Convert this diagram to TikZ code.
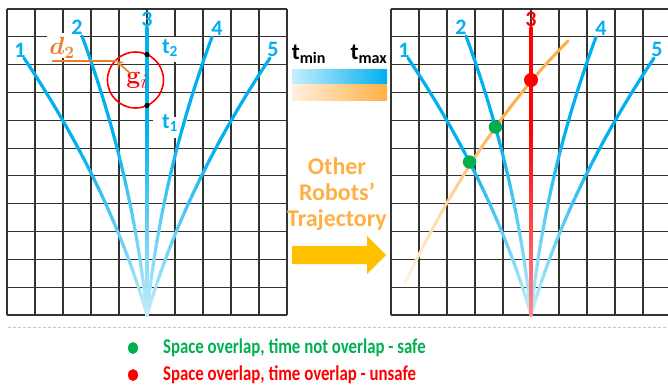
\documentclass[tikz,border=0pt]{standalone}
\usepackage{amsmath,bm}
\usepackage[no-math]{fontspec}
\setmainfont{Carlito}
\usetikzlibrary{arrows.meta}
\definecolor{tblue}{HTML}{00B0F0}
\definecolor{torange}{HTML}{ED7D31}
\definecolor{lorange}{HTML}{FFAF45}
\definecolor{tgold}{HTML}{FFC000}
\definecolor{tgreen}{HTML}{00B050}
\definecolor{tred}{HTML}{FF0000}
\newcommand{\gradcurve}[9]{%
\foreach \k in {1,...,30}{%
\pgfmathsetmacro\ta{(\k-1)/30}%
\pgfmathsetmacro\tb{\k/30}%
\pgfmathsetmacro\xa{#1+2*(1-\ta)*\ta*(#3)+\ta*\ta*(#5)}%
\pgfmathsetmacro\ya{#2+2*(1-\ta)*\ta*(#4)+\ta*\ta*(#6)}%
\pgfmathsetmacro\xb{#1+2*(1-\tb)*\tb*(#3)+\tb*\tb*(#5)}%
\pgfmathsetmacro\yb{#2+2*(1-\tb)*\tb*(#4)+\tb*\tb*(#6)}%
\pgfmathtruncatemacro\pc{#9+(100-#9)*min(1,\tb*1.5)}%
\draw[draw=#7!\pc!white, line width=#8, line cap=round] (\xa,\ya) -- (\xb,\yb);
}}
\begin{document}
\begin{tikzpicture}[x=1pt,y=-1pt,
  gridline/.style={black!80, line width=1.1pt},
  numlabel/.style={text=tblue, font=\bfseries\fontsize{22}{22}\selectfont, inner sep=0pt},
  tlabel/.style={text=tblue, font=\bfseries\fontsize{22}{22}\selectfont, inner sep=0pt},
  legendtext/.style={font=\bfseries\fontsize{21}{21}\selectfont, anchor=west, inner sep=0pt}]
\useasboundingbox (0,0) rectangle (668,386);

% grids
\foreach \j in {0,...,11}{%
  \pgfmathsetmacro\gy{9+27.818*\j}
  \draw[gridline] (7,\gy) -- (287,\gy);
  \draw[gridline] (391,\gy) -- (668,\gy);}
\foreach \i in {0,...,10}{\draw[gridline] ({7+28*\i},9) -- ({7+28*\i},315);}
\foreach \i in {0,...,9}{\draw[gridline] ({391+28*\i},9) -- ({391+28*\i},315);}

% white label boxes on left grid
\fill[white] (47,33) rectangle (80,58);
\fill[white] (154,36.5) rectangle (188,62);
\fill[white] (153,117) rectangle (187,138);

\coordinate (OL) at (147,315);
\coordinate (OR) at (531,315);

% left trajectories
\gradcurve{147}{315}{-37}{-128}{-123}{-257}{tblue}{3.2pt}{22}
\gradcurve{147}{315}{-14}{-140}{-65}{-279}{tblue}{3.2pt}{22}
\gradcurve{147}{315}{14}{-140}{65}{-278}{tblue}{3.2pt}{22}
\gradcurve{147}{315}{37}{-128}{123}{-257}{tblue}{3.2pt}{22}
\gradcurve{147}{315}{0}{-143.5}{0}{-287}{tblue}{4pt}{22}

% right trajectories
\gradcurve{531}{315}{-37}{-128}{-123}{-257}{tblue}{3.2pt}{22}
\gradcurve{531}{315}{-14}{-140}{-65}{-279}{tblue}{3.2pt}{22}
\gradcurve{531}{315}{14}{-140}{65}{-278}{tblue}{3.2pt}{22}
\gradcurve{531}{315}{37}{-128}{123}{-257}{tblue}{3.2pt}{22}
% other robot trajectory
\gradcurve{405}{283}{72}{-151}{163}{-242}{lorange}{3pt}{15}
% red trajectory 3
\gradcurve{531}{315}{0}{-143.5}{0}{-287}{tred}{4pt}{45}

% labels
\foreach \n/\dx/\dy in {1/-127/-265, 2/-70/-288, 4/70/-287, 5/126/-266}{%
  \node[numlabel] (L\n) at ({147+\dx},{315+\dy}) {\n};
  \node[numlabel] (R\n) at ({531+\dx},{315+\dy}) {\n};}
\node[numlabel] (L3) at (147,19) {3};
\node[numlabel, text=tred] (R3) at (531,19) {3};

% goal circle
\node[circle, draw=tred, line width=1.6pt, minimum size=56pt, inner sep=0pt] (gc) at (135.5,80) {};
\node[text=tred, font=\fontsize{28}{28}\selectfont, inner sep=0pt] (gi) at (137,80) {$\mathbf{g}_i$};
\fill[black] (147,54.5) circle[radius=2.6];
\fill[black] (147,105.5) circle[radius=2.6];
\coordinate (d2a) at (52,61);
\coordinate (d2b) at (117,61);
\draw[torange, line width=1.6pt] (d2a) -- (d2b);
\coordinate (ga) at (131,74);
\coordinate (gb) at (117,61.5);
\draw[torange, line width=1.6pt, -{Straight Barb[length=4pt,width=7pt]}] (ga) -- (gb);
\node[text=torange, font=\fontsize{23}{23}\selectfont, inner sep=0pt] (d2) at (62,48) {$\bm{d_2}$};
\node[tlabel] (t2) at (170,48) {t\textsubscript{2}};
\node[tlabel] (t1) at (170,123) {t\textsubscript{1}};

% time scale bars
\node[font=\bfseries\fontsize{23}{23}\selectfont, inner sep=0pt] (tmin) at (309,54) {t\textsubscript{min}};
\node[font=\bfseries\fontsize{23}{23}\selectfont, inner sep=0pt] (tmax) at (369,54) {t\textsubscript{max}};
\shade[left color=tblue!22!white, right color=tblue] (292,69) rectangle (387,84.5);
\shade[left color=lorange!18!white, right color=lorange] (292,84.5) rectangle (387,100.5);

% other robots text and arrow
\node[text=lorange, font=\bfseries\fontsize{24}{26}\selectfont, align=center, inner sep=0pt] (other) at (337,194) {Other\\Robots’\\Trajectory};
\fill[tgold] (292,246) -- (367,246) -- (367,236) -- (386,255) -- (367,274) -- (367,264) -- (292,264) -- cycle;

% intersection dots
\fill[tgreen] (469.5,162) circle[radius=6.7];
\fill[tgreen] (495.4,127) circle[radius=6.7];
\fill[tred] (531,80) circle[radius=7];

% separator
\coordinate (sepa) at (8,327);
\coordinate (sepb) at (668,327);
\draw[gray!45, line width=0.9pt, dash pattern=on 3pt off 2pt] (sepa) -- (sepb);

% legend
\fill[tgreen] (133,348) ellipse[x radius=5, y radius=6];
\fill[tred] (133,375) ellipse[x radius=5, y radius=6];
\node[legendtext, text=tgreen] (safe) at (163,348) {\scalebox{0.8}[1]{Space overlap, time not overlap - safe}};
\node[legendtext, text=tred] (unsafe) at (163,375) {\scalebox{0.8}[1]{Space overlap, time overlap - unsafe}};
\end{tikzpicture}
\end{document}
